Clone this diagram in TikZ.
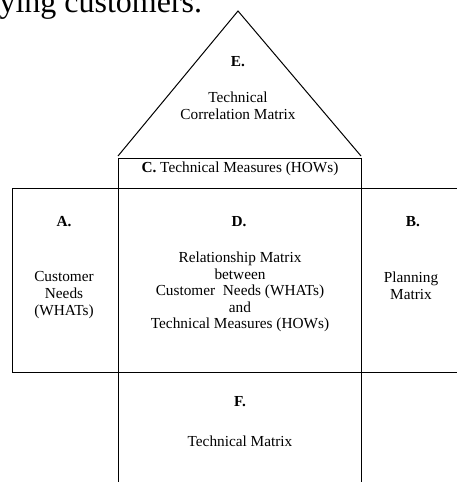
\documentclass[tikz,border=0pt]{standalone}
\usepackage{fontspec}
\setmainfont{Liberation Serif}
\begin{document}
\begin{tikzpicture}[x=1pt,y=-1pt,line width=1pt,
  frame/.style={draw=black,line width=1pt},
  lbl/.style={font=\fontsize{15.3}{16.6}\selectfont,align=center,inner sep=0pt},
  tag/.style={font=\fontsize{15.3}{16.6}\selectfont\bfseries,inner sep=0pt}]
\useasboundingbox (0,0) rectangle (457,482);
\clip (0,0) rectangle (457,482);

% running text of the page above the figure
\node[anchor=base west,font=\fontsize{32}{36}\selectfont,inner sep=0pt] (caption) at (-1,12.5) {ying customers.};

% key points of the house outline
\coordinate (apex) at (238,11);
\coordinate (roofL) at (118,156);
\coordinate (roofR) at (361,156);
\coordinate (hTL) at (118,158);
\coordinate (hTR) at (361,158);
\coordinate (hBL) at (118,490);
\coordinate (hBR) at (361,490);
\coordinate (rowTL) at (12,188);
\coordinate (rowBL) at (12,372);
\coordinate (rowTR) at (470,188);
\coordinate (rowBR) at (470,372);

% roof (E)
\draw[frame] (roofL) -- (apex) -- (roofR);
% central column (C, D, F)
\draw[frame] (hTL) -- (hTR);
\draw[frame] (hTL) -- (hBL);
\draw[frame] (hTR) -- (hBR);
% middle row (A, D, B)
\draw[frame] (rowTR) -- (rowTL) -- (rowBL) -- (rowBR);

% labels
\node[tag] (eTag) at (238,62) {E.};
\node[lbl] (eText) at (238,106) {Technical\\Correlation Matrix};
\node[lbl] (cText) at (240,169) {\textbf{C.} Technical Measures (HOWs)};

\node[tag] (aTag) at (64,222) {A.};
\node[lbl] (aText) at (64,295) {Customer\\Needs\\(WHATs)};

\node[tag] (dTag) at (239,222) {D.};
\node[lbl] (dText) at (240,292) {Relationship Matrix\\between\\Customer\ \ Needs (WHATs)\\and\\Technical Measures (HOWs)};

\node[tag] (bTag) at (413,222) {B.};
\node[lbl] (bText) at (411,286) {Planning\\Matrix};

\node[tag] (fTag) at (240,402) {F.};
\node[lbl] (fText) at (240,441) {Technical Matrix};
\end{tikzpicture}
\end{document}
